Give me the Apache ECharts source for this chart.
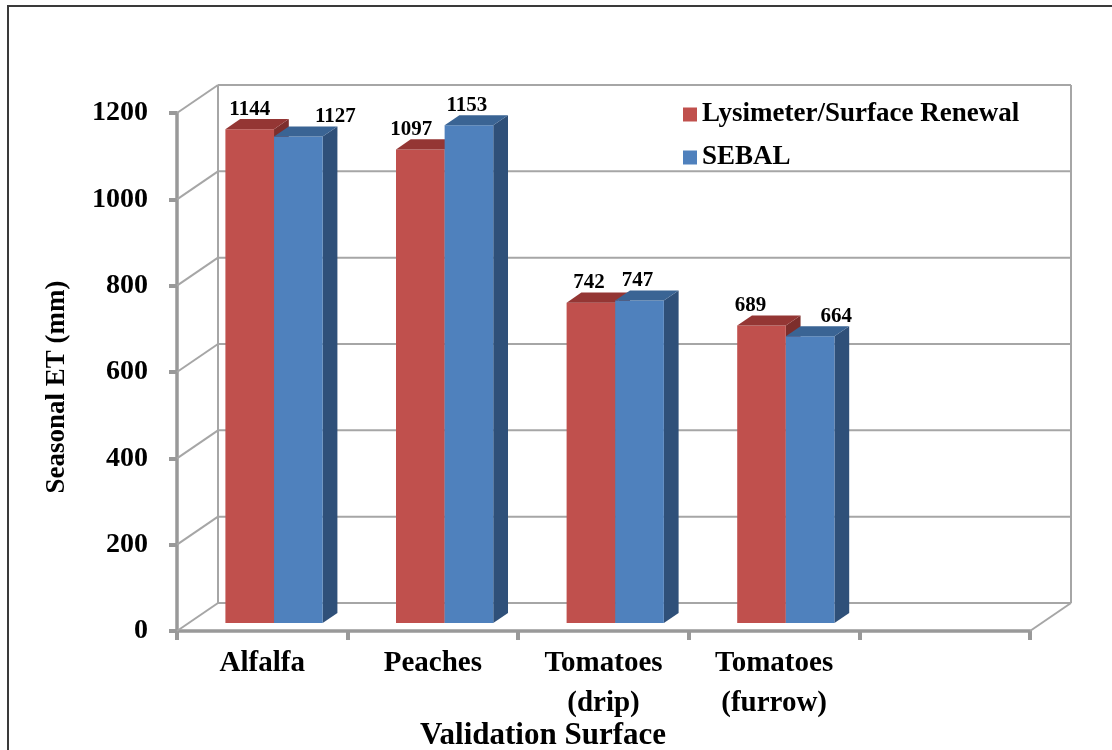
<!DOCTYPE html>
<html>
<head>
<meta charset="utf-8">
<title>Seasonal ET by validation surface</title>
<script src="https://cdn.jsdelivr.net/npm/echarts@6/dist/echarts.min.js"></script>
<style>
  html, body { margin: 0; padding: 0; background: #ffffff; }
  #chart { width: 1112px; height: 750px; }
</style>
</head>
<body>
<div id="chart"></div>
<script>
// Categories along the floor (the last slot is left empty)
const categories = ['Alfalfa', 'Peaches', 'Tomatoes\n(drip)', 'Tomatoes\n(furrow)', ''];
// Seasonal ET (mm) per surface
const lysimeter = [1144, 1097, 742, 689];
const sebal = [1127, 1153, 747, 664];
// Value axis ticks
const yTicks = [0, 200, 400, 600, 800, 1000, 1200];
// Horizontal nudges of the value labels (px), per series
const labelShiftRed = [0, -9, -2, -11];
const labelShiftBlue = [37, -2, -2, 26];

const SERIF = '"Liberation Serif", "Times New Roman", serif';
// Oblique depth vector of the plot box (front plane -> back wall)
const DX = 41, DY = -28;
// Bars sit between these fractions of the depth
const BAR_NEAR = 0.286, BAR_DEPTH = 0.36;
const BAR_FRAC = 0.285; // bar width as a fraction of the category width
const GRID_COLOR = '#a6a6a6';

const faces = [
  { front: '#C0504D', top: '#943634', side: '#7d2e2c', shift: labelShiftRed },
  { front: '#4F81BD', top: '#3a6494', side: '#2f5079', shift: labelShiftBlue }
];

function barRenderer(seriesIdx) {
  return function (params, api) {
    const cat = api.value(0);
    const val = api.value(1);
    const base = api.coord([cat, 0]);
    const top = api.coord([cat, val]);
    const catW = api.size([1, 0])[0];
    const w = catW * BAR_FRAC;
    const ox = DX * BAR_NEAR, oy = DY * BAR_NEAR;
    const dx = DX * BAR_DEPTH, dy = DY * BAR_DEPTH;
    const x0 = base[0] + (seriesIdx === 0 ? -w : 0) + ox;
    const x1 = x0 + w;
    const yb = base[1] + oy;
    const yt = top[1] + oy;
    const f = faces[seriesIdx];
    return {
      type: 'group',
      children: [
        { type: 'polygon', shape: { points: [[x1, yt], [x1 + dx, yt + dy], [x1 + dx, yb + dy], [x1, yb]] },
          style: { fill: f.side } },
        { type: 'rect', shape: { x: x0, y: yt, width: w, height: yb - yt },
          style: { fill: f.front } },
        { type: 'polygon', shape: { points: [[x0, yt], [x1, yt], [x1 + dx, yt + dy], [x0 + dx, yt + dy]] },
          style: { fill: f.top } },
        { type: 'text', x: x0 + w / 2 + f.shift[params.dataIndex], y: yt - 20,
          style: { text: String(val), font: 'bold 21px ' + SERIF, fill: '#000',
                   textAlign: 'center', textVerticalAlign: 'middle',
                   align: 'center', verticalAlign: 'middle' } }
      ]
    };
  };
}

// Back wall, side wall and floor edges of the 3-D box
function wallRenderer(params, api) {
  const cs = params.coordSys;
  const y = api.coord([0, api.value(1)])[1];
  const ls = { stroke: GRID_COLOR, lineWidth: 2 };
  const kids = [
    { type: 'line', shape: { x1: cs.x, y1: y, x2: cs.x + DX, y2: y + DY }, style: ls },
    { type: 'line', shape: { x1: cs.x + DX, y1: y + DY, x2: cs.x + cs.width + DX, y2: y + DY }, style: ls }
  ];
  if (params.dataIndex === 0) {
    const yTop = cs.y + DY, yBot = cs.y + cs.height + DY;
    kids.push(
      { type: 'line', shape: { x1: cs.x + DX, y1: yTop, x2: cs.x + DX, y2: yBot }, style: ls },
      { type: 'line', shape: { x1: cs.x + cs.width + DX, y1: yTop, x2: cs.x + cs.width + DX, y2: yBot }, style: ls },
      { type: 'line', shape: { x1: cs.x + cs.width, y1: cs.y + cs.height, x2: cs.x + cs.width + DX, y2: yBot }, style: ls }
    );
  }
  return { type: 'group', children: kids };
}

const chart = echarts.init(document.getElementById('chart'), null, { renderer: 'canvas' });

chart.setOption({
  backgroundColor: '#ffffff',
  animation: false,
  grid: { left: 177, right: 82, top: 113, bottom: 119 },
  legend: {
    orient: 'vertical',
    left: 678,
    top: 96,
    itemWidth: 14,
    itemHeight: 14,
    itemGap: 16,
    textStyle: { fontFamily: SERIF, fontWeight: 'bold', fontSize: 27, lineHeight: 27, color: '#000' },
    data: [
      { name: 'Lysimeter/Surface Renewal', icon: 'rect' },
      { name: 'SEBAL', icon: 'rect' }
    ]
  },
  xAxis: {
    type: 'category',
    data: categories,
    boundaryGap: true,
    axisLine: { lineStyle: { color: '#999', width: 3.5 } },
    axisTick: { show: true, interval: 0, length: 9, lineStyle: { color: '#999', width: 4 } },
    axisLabel: { interval: 0, margin: 13, fontFamily: SERIF, fontWeight: 'bold', fontSize: 29,
                 lineHeight: 40, color: '#000', verticalAlign: 'top' },
    splitLine: { show: false }
  },
  yAxis: {
    type: 'value',
    min: 0,
    max: 1200,
    interval: 200,
    axisLine: { show: true, lineStyle: { color: '#999', width: 3.5 } },
    axisTick: { show: true, length: 8, lineStyle: { color: '#999', width: 4 } },
    axisLabel: { margin: 29, fontFamily: SERIF, fontWeight: 'bold', fontSize: 28, color: '#000',
                 formatter: v => (yTicks.indexOf(v) >= 0 ? String(v) : '') },
    splitLine: { show: false }
  },
  graphic: [
    { type: 'rect', z: -10, shape: { x: 8, y: 6, width: 1130, height: 780 },
      style: { fill: 'none', stroke: '#3a3a3a', lineWidth: 2 } },
    { type: 'text', x: 57, y: 387, rotation: Math.PI / 2,
      style: { text: 'Seasonal ET (mm)', font: 'bold 27px ' + SERIF, fill: '#000',
               textAlign: 'center', textVerticalAlign: 'middle' } },
    { type: 'text', x: 543, y: 736,
      style: { text: 'Validation Surface', font: 'bold 31px ' + SERIF, fill: '#000',
               textAlign: 'center', textVerticalAlign: 'middle' } }
  ],
  series: [
    {
      type: 'custom',
      name: 'walls',
      silent: true,
      z: 1,
      renderItem: wallRenderer,
      data: yTicks.map(v => [0, v])
    },
    {
      type: 'custom',
      name: 'Lysimeter/Surface Renewal',
      z: 3,
      itemStyle: { color: faces[0].front },
      renderItem: barRenderer(0),
      data: lysimeter.map((v, i) => [i, v])
    },
    {
      type: 'custom',
      name: 'SEBAL',
      z: 4,
      itemStyle: { color: faces[1].front },
      renderItem: barRenderer(1),
      data: sebal.map((v, i) => [i, v])
    }
  ]
});
</script>
</body>
</html>
